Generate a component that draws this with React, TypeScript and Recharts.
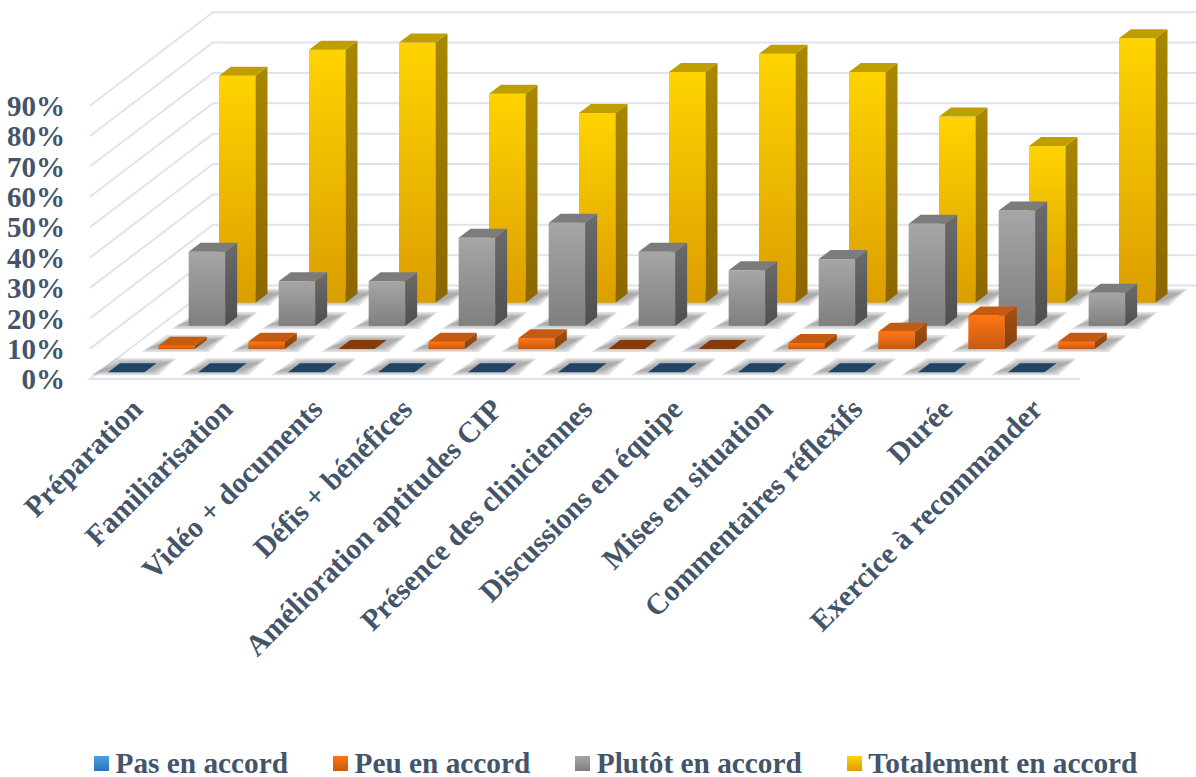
import { BarChart, Bar, XAxis, YAxis, CartesianGrid, Legend } from "recharts";

const CATEGORIES = [
    "Préparation",
    "Familiarisation",
    "Vidéo + documents",
    "Défis + bénéfices",
    "Amélioration aptitudes CIP",
    "Présence des cliniciennes",
    "Discussions en équipe",
    "Mises en situation",
    "Commentaires réflexifs",
    "Durée",
    "Exercice à recommander",
];
const PAS_EN_ACCORD = [0, 0, 0, 0, 0, 0, 0, 0, 0, 0, 0];
const PEU_EN_ACCORD = [1.1, 2.4, 0, 2.4, 3.6, 0, 0, 2, 5.7, 11.1, 2.4];
const PLUTOT_EN_ACCORD = [24.4, 14.7, 14.7, 29, 34, 24.4, 18.3, 22, 33.6, 38, 10.9];
const TOTALEMENT_EN_ACCORD = [74.7, 83.3, 85.7, 68.8, 62.5, 76, 82, 76, 61.3, 51.6, 87.1];
const Y_TICKS = [0, 10, 20, 30, 40, 50, 60, 70, 80, 90];

const rows = CATEGORIES.map((name, i) => ({
    name,
    pas: PAS_EN_ACCORD[i],
    peu: PEU_EN_ACCORD[i],
    plutot: PLUTOT_EN_ACCORD[i],
    totalement: TOTALEMENT_EN_ACCORD[i],
}));

const SERIES = [
    { key: "pas", label: "Pas en accord", swatch: "swatchBlue", front: "#2E75B6", side: "#1F4E79", top: "#1F4467", zero: "#1F4467" },
    { key: "peu", label: "Peu en accord", swatch: "frontOrange", front: "url(#frontOrange)", side: "url(#sideOrange)", top: "#C55A11", zero: "#843C0C" },
    { key: "plutot", label: "Plutôt en accord", swatch: "frontGray", front: "url(#frontGray)", side: "url(#sideGray)", top: "#7C7C7C", zero: "#7C7C7C" },
    { key: "totalement", label: "Totalement en accord", swatch: "frontYellow", front: "url(#frontYellow)", side: "url(#sideYellow)", top: "#BF9F00", zero: "#BF9F00" },
];

const TEXT = "#44546A";
const SERIF = "'Liberation Serif', serif";
const GRID = "#DFE3EB";

// plot box on the page
const LEFT = 90;
const WIDTH = 1196;
const TOP = 10;
const BAND_TOTAL = 990;
// wall depth, front corner to back corner
const WALL_DX = 123;
const WALL_DY = 93.5;
// one row deeper into the floor
const ROW_DX = 30.33;
const ROW_DY = 23.2;
const BOX_DX = 12;
const BOX_DY = 9;
const TOP_PAD = 105.7 - TOP;
// soft shadow edge, made of nested see-through layers
const SHADOW_INSETS = [0, 2.5, 5, 7.5];

const padX = (i: number) => {
    const left = 11 + i * ROW_DX;
    return { left, right: WIDTH - LEFT - BAND_TOTAL - left };
};
const padY = (i: number) => {
    const bottom = 6.7 + i * ROW_DY;
    return { top: TOP_PAD - bottom, bottom };
};

function Box(props: any, s: (typeof SERIES)[number]) {
    const { x, y, width: w, height: h } = props;
    const flat = h < 0.5;
    const bottom = y + h;
    return (
        <g>
            {/* floor shadow, rows are far enough apart that it never lands on a neighbour */}
            {SHADOW_INSETS.map((t) => (
                <polygon
                    key={t}
                    points={`${x - 17 + t},${bottom + 3 - t * 0.6} ${x + w + 14 - t},${bottom + 3 - t * 0.6} ${x + w + 32 - t},${bottom - 14 + t * 0.6} ${x + 8 + t},${bottom - 14 + t * 0.6}`}
                    fill="#7A7A7A"
                    fillOpacity={0.22}
                />
            ))}
            {!flat && <rect x={x} y={y} width={w} height={h} fill={s.front} />}
            {!flat && (
                <polygon
                    points={`${x + w},${y} ${x + w + BOX_DX},${y - BOX_DY} ${x + w + BOX_DX},${bottom - BOX_DY} ${x + w},${bottom}`}
                    fill={s.side}
                />
            )}
            <polygon
                points={`${x},${y} ${x + BOX_DX},${y - BOX_DY} ${x + w + BOX_DX},${y - BOX_DY} ${x + w},${y}`}
                fill={flat ? s.zero : s.top}
            />
        </g>
    );
}

// one gridline bends round the corner: left wall, then back wall
function WallLine(props: any) {
    const y = props.y1;
    const floor = Math.abs(y - props.floorY) < 1;
    const start = floor ? `${LEFT + BAND_TOTAL},${y} ` : "";
    return (
        <polyline
            points={`${start}${LEFT},${y} ${LEFT + WALL_DX},${y - WALL_DY} ${WIDTH},${y - WALL_DY}`}
            fill="none"
            stroke={GRID}
            strokeWidth={2}
        />
    );
}

function CategoryTick({ x, y, payload }: any) {
    const tx = x - 2;
    const ty = y + 24;
    return (
        <text
            x={tx}
            y={ty}
            textAnchor="end"
            fontFamily={SERIF}
            fontWeight="bold"
            fontSize={29.5}
            fill={TEXT}
            transform={`rotate(-45 ${tx} ${ty})`}
        >
            {payload.value}
        </text>
    );
}

function LegendRow() {
    return (
        <div style={{ display: "flex", gap: 45, paddingLeft: 94, fontFamily: SERIF, fontWeight: "bold", fontSize: 29.3, color: TEXT, lineHeight: "26px", position: "relative", top: 3 }}>
            {SERIES.map((s) => (
                <div key={s.key} style={{ display: "flex", alignItems: "center", gap: 6.5, whiteSpace: "nowrap" }}>
                    <svg width={15} height={15}>
                        <rect width={15} height={15} fill={`url(#${s.swatch})`} />
                    </svg>
                    {s.label}
                </div>
            ))}
        </div>
    );
}

function vertical(id: string, from: string, to: string) {
    return (
        <linearGradient id={id} x1="0" y1="0" x2="0" y2="1">
            <stop offset="0%" stopColor={from} />
            <stop offset="100%" stopColor={to} />
        </linearGradient>
    );
}

export default function App() {
    return (
        <div style={{ position: "absolute", left: 0, top: 0, width: 1196, height: 777, background: "#fff" }}>
            <BarChart
                width={WIDTH}
                height={777}
                data={rows}
                barSize={36.5}
                margin={{ top: TOP, right: 0, bottom: 48, left: 0 }}
            >
                <defs>
                    {vertical("frontYellow", "#FFD300", "#DB9E00")}
                    {vertical("sideYellow", "#A88700", "#8C6600")}
                    {vertical("frontGray", "#A6A6A6", "#7F7F7F")}
                    {vertical("sideGray", "#6B6B6B", "#4F4F4F")}
                    {vertical("frontOrange", "#FF7515", "#C65A11")}
                    {vertical("sideOrange", "#A8500F", "#84400C")}
                    {vertical("swatchBlue", "#4A9FE8", "#2E75B6")}
                </defs>

                {SERIES.map((s, i) => (
                    <XAxis
                        key={s.key}
                        xAxisId={s.key}
                        dataKey="name"
                        hide={i > 0}
                        height={i === 0 ? 320 : 0}
                        padding={padX(i)}
                        axisLine={false}
                        tickLine={false}
                        interval={0}
                        tick={CategoryTick}
                    />
                ))}
                {SERIES.map((s, i) => (
                    <YAxis key={s.key} yAxisId={s.key} hide domain={[0, 90]} padding={padY(i)} />
                ))}
                <YAxis
                    yAxisId="front"
                    width={LEFT}
                    domain={[0, 90]}
                    ticks={Y_TICKS}
                    interval={0}
                    padding={{ top: TOP_PAD, bottom: 0 }}
                    axisLine={false}
                    tickLine={false}
                    tickSize={0}
                    tickMargin={25}
                    tickFormatter={(v) => `${v}%`}
                    tick={{ fontFamily: SERIF, fontWeight: "bold", fontSize: 29, fill: TEXT }}
                />

                <CartesianGrid
                    xAxisId="pas"
                    yAxisId="front"
                    vertical={false}
                    syncWithTicks
                    horizontal={(p: any) => <WallLine key={p.key ?? p.index} {...p} floorY={379} />}
                />

                {/* keeps the front axis alive, the walls and the tick labels hang off it */}
                <Bar
                    dataKey="pas"
                    xAxisId="pas"
                    yAxisId="front"
                    legendType="none"
                    isAnimationActive={false}
                    shape={() => null}
                />

                {[...SERIES].reverse().map((s) => (
                    <Bar
                        key={s.key}
                        dataKey={s.key}
                        name={s.label}
                        xAxisId={s.key}
                        yAxisId={s.key}
                        isAnimationActive={false}
                        shape={(p: any) => Box(p, s)}
                    />
                ))}

                <Legend height={30} verticalAlign="bottom" content={LegendRow} wrapperStyle={{ left: 0, width: WIDTH, bottom: 0 }} />
            </BarChart>
        </div>
    );
}
